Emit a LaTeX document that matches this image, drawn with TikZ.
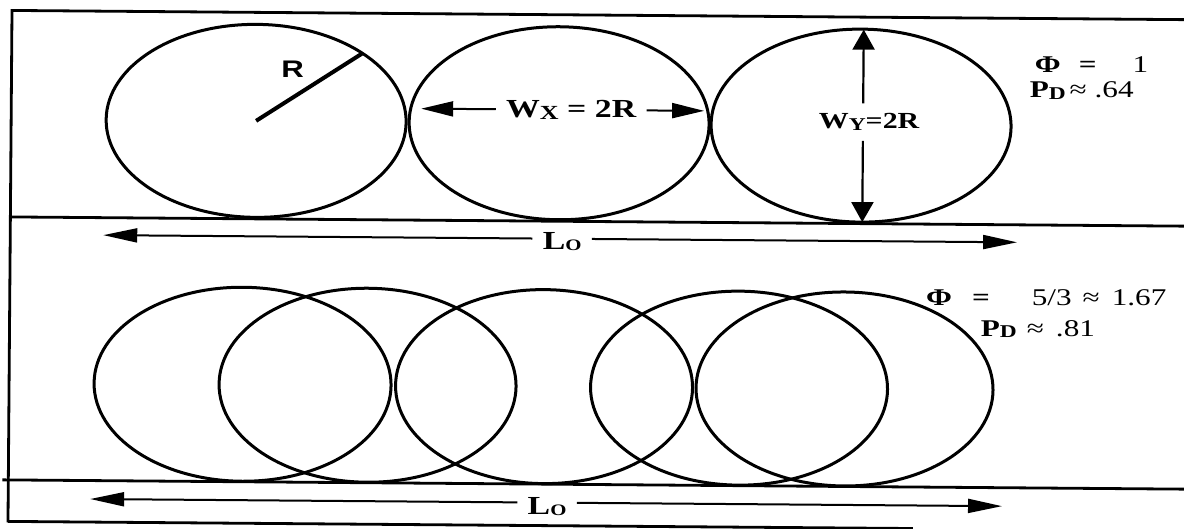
\documentclass[tikz,border=0pt]{standalone}
\usepackage{fontspec}
\setmainfont{Liberation Serif}[FakeStretch=1.3]
\newfontfamily\rfont{Liberation Sans}[FakeStretch=1.3]
\usetikzlibrary{arrows.meta}
\newcommand{\lowcap}[2][10]{\raisebox{-0.8pt}{\fontsize{#1}{#1}\selectfont #2}}
\begin{document}
\begin{tikzpicture}[x=0.5pt,y=-0.5pt,
 e/.style={line width=1.5pt},
 fr/.style={line width=1.4pt},
 a/.style={-{Triangle[length=16pt,width=7.5pt]},line width=1pt},
 av/.style={-{Triangle[length=10pt,width=11pt]},line width=1.1pt},
 al/.style={-{Triangle[length=17pt,width=7pt]},line width=1pt},
 t/.style={font=\bfseries\fontsize{13}{15}\selectfont,inner xsep=5pt,inner ysep=2pt},
 v/.style={font=\fontsize{12}{14}\selectfont,anchor=west,inner sep=0pt}]
\useasboundingbox (0,0) rectangle (1184,529);
\begin{scope}[rotate around={-0.45:(592,265)}]
\draw[fr] (10,527) -- (10,15) -- (1192,15);
\draw[fr] (10,221.5) -- (1192,221.5);
\draw[fr] (4,484.5) -- (1192,484.5);
\draw[fr] (10,526) -- (915,526);
\foreach \cx in {255,558,860} \draw[e] (\cx,123.5) ellipse [x radius=150,y radius=96.5];
\foreach \cx in {243.5,368.5,545,740,845.5} \draw[e] (\cx,387) ellipse [x radius=148.5,y radius=97];
\coordinate (o) at (255,123.5);
\coordinate (rp) at (361,55);
\draw[line width=2pt] (o) -- (rp);
\node[font=\rfont\bfseries\fontsize{12}{14}\selectfont] (r) at (291,72) {R};
\node[t] (wx) at (570,110) {W\lowcap{X} = 2R};
\coordinate (wxl) at (420,110);
\coordinate (wxr) at (703,110);
\draw[a] (wx) -- (wxl);\draw[a] (wx) -- (wxr);
\node[t,font=\bfseries\fontsize{11.5}{13}\selectfont,inner ysep=5pt] (wy) at (868,120) {W\lowcap[9]{Y}=2R};
\coordinate (wyt) at (862,27.5);
\coordinate (wyb) at (862,220);
\draw[av] (wyt |- wy.north) -- (wyt);\draw[av] (wyb |- wy.south) -- (wyb);
\node[v] (phia) at (1033,61) {\textbf{Φ}\hspace{9pt}\textbf{=}\hspace{18pt}1};
\node[v] (pda) at (1028,87) {\textbf{P\lowcap[9]{D}}\hspace{2pt}≈ .64};
\node[v] (phib) at (926,295.5) {\textbf{Φ}\hspace{10pt}\textbf{=}\hspace{21pt}5/3\hspace{5.5pt}≈\hspace{6pt}1.67};
\node[v] (pdb) at (981,326) {\textbf{P\lowcap[9]{D}}\hspace{5pt}≈\hspace{6pt}.81};
\node[t] (lt) at (562,242) {L\lowcap[8]{O}};
\coordinate (ltl) at (103,239);
\coordinate (ltr) at (1017,239);
\draw[al] (lt.west |- ltl) -- (ltl);\draw[al] (lt.east |- ltr) -- (ltr);
\node[t] (lb) at (549,507) {L\lowcap[8]{O}};
\coordinate (lbl) at (92,503);
\coordinate (lbr) at (1004,503);
\draw[al] (lb.west |- lbl) -- (lbl);\draw[al] (lb.east |- lbr) -- (lbr);
\end{scope}
\end{tikzpicture}
\end{document}
